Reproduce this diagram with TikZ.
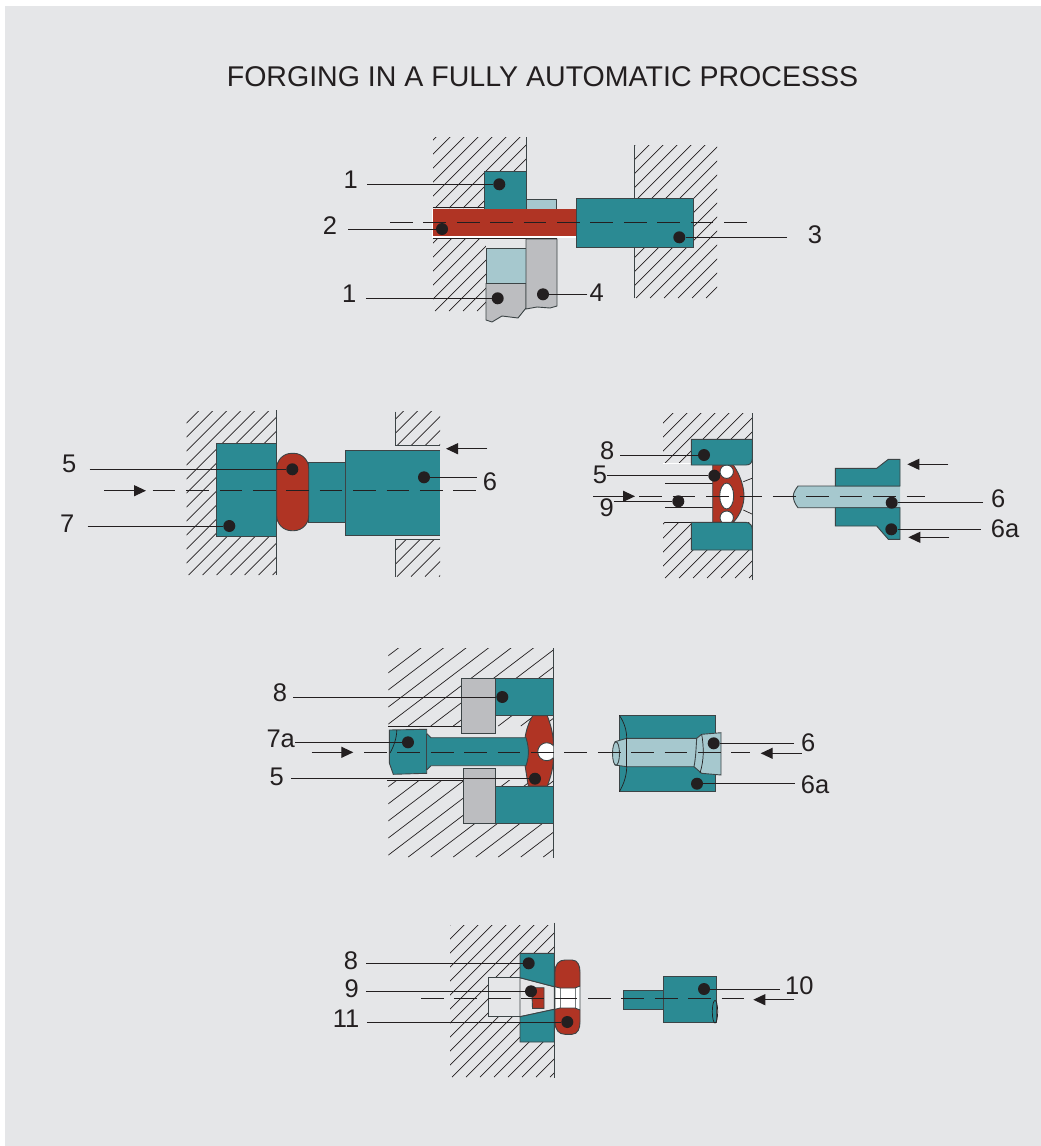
\documentclass[tikz,border=0pt]{standalone}
\usepackage{fontspec}
\setmainfont{Liberation Sans}
\usepackage{xcolor}
\usetikzlibrary{arrows.meta, calc, positioning}

\definecolor{panelc}{HTML}{E5E6E8}
\definecolor{tealc}{HTML}{2B8A93}
\definecolor{redc}{HTML}{B03424}
\definecolor{icec}{HTML}{A6C8CE}
\definecolor{steelc}{HTML}{BCBDC0}
\definecolor{inkc}{HTML}{231F20}
\definecolor{edgec}{HTML}{3C4446}

\tikzset{
  part/.style={draw=edgec, line width=0.9pt},
  tealpart/.style={part, fill=tealc},
  redpart/.style={part, fill=redc},
  icepart/.style={part, fill=icec},
  steelpart/.style={part, fill=steelc},
  voidpart/.style={part, fill=panelc},
  holepart/.style={part, fill=white},
  wall/.style={draw=edgec, line width=0.9pt},
  thinline/.style={draw=inkc, line width=0.7pt},
  faintline/.style={draw=edgec!70, line width=0.5pt},
  hatchline/.style={draw=inkc, line width=0.7pt},
  centreline/.style={draw=inkc, line width=1.2pt, dash pattern=on 22.7pt off 10.7pt},
  feed/.style={draw=inkc, line width=1.2pt, -{Triangle[length=12pt,width=11pt]}},
  blackdot/.style={circle, fill=inkc, inner sep=0pt, minimum size=12pt},
  numlabel/.style={inner sep=0pt, text=inkc, font=\fontsize{25.5}{26}\selectfont},
  leader/.style={draw=inkc, line width=0.85pt}
}

\newcommand{\hatchbox}[6]{
  \begin{scope}
    \clip (#1,#2) rectangle (#3,#4);
    \foreach \s in {0,#5,...,520} {
      \draw[hatchline] ({#1-250+\s},#4) -- ++(250,{-250*#6});
    }
  \end{scope}
}

\begin{document}
\begin{tikzpicture}[x=1pt, y=-1pt]
\useasboundingbox (0,0) rectangle (1041,1146);
\fill[white] (0,0) rectangle (1041,1146);
\fill[panelc] (5,6) rectangle (1041,1146);

\node (title) at (542.5,76.5) [text=inkc, inner sep=0pt, font=\fontsize{28.55}{30}\selectfont] {FORGING IN A FULLY AUTOMATIC PROCESSS};

\hatchbox{433}{137}{526}{208}{14}{1}
\hatchbox{433}{239}{526}{311}{14}{1}
\hatchbox{634}{145}{717}{298}{14}{1}
\draw[wall] (526,137) -- (526,209);
\draw[wall] (634,145) -- (634,298);
\draw[thinline] (433,207.5) -- (485,207.5);
\fill[white] (431.5,209) rectangle (577,237.5);
\draw[icepart] (526,199) rectangle (556,209);
\draw[tealpart] (484.5,171) rectangle (526,209);
\fill[panelc] (486,239) rectangle (526,248);
\draw[thinline] (433,238.7) -- (557,238.7);
\draw[icepart] (486,248) rectangle (526,283.5);
\draw[steelpart] (486,283.5) -- (526,283.5) -- (526,308) -- (518,318) -- (502,316) -- (492,322) -- (486,320) -- cycle;
\draw[steelpart] (526,239) -- (557,239) -- (557,306) -- (550,308) -- (537,307) -- (526,309) -- cycle;
\fill[redc] (433,209) rectangle (577,236);
\draw[tealpart] (576,198) rectangle (693,247);

\hatchbox{186.7}{411.7}{276.7}{575}{14}{1}
\hatchbox{395}{411.7}{440}{445.7}{14}{1}
\hatchbox{395}{539.3}{440}{576.7}{14}{1}
\draw[wall] (276.7,410) -- (276.7,575);
\draw[wall] (395,411.7) -- (395,445.7) -- (440,445.7);
\draw[wall] (395,576.7) -- (395,539.3) -- (440,539.3);
\draw[tealpart] (216,443.3) rectangle (276.7,536.7);
\draw[tealpart] (308.7,462.3) rectangle (345,522);
\draw[redpart, rounded corners=15pt] (276.7,453.3) rectangle (308.7,530.7);
\fill[tealc] (345,450.3) rectangle (440,535.3);
\draw[part] (440,450.3) -- (345,450.3) -- (345,535.3) -- (440,535.3);

\hatchbox{663}{413}{752.3}{463}{14}{1}
\hatchbox{663}{522}{752.3}{578}{14}{1}
\draw[wall] (752.3,413) -- (752.3,580);
\draw[white, line width=1.2pt] (663,463.3) -- (691.3,463.3);
\draw[thinline] (665,483.3) -- (712.7,483.3);
\draw[thinline] (665,507.3) -- (712.7,507.3);
\draw[thinline] (665,522.3) -- (691.3,522.3);
\draw[thinline] (743.3,481.7) -- (752,478.3);
\draw[thinline] (743.3,510) -- (752,514);
\draw[redpart] (712.7,465) -- (733.3,465) .. controls (741,476) and (744,488) .. (744,496) .. controls (744,504) and (741,514) .. (733.3,522.3) -- (712.7,522.3) -- cycle;
\draw[holepart] (726.7,471.7) circle (6.7);
\draw[holepart] (726.7,517.7) circle (6.7);
\draw[holepart] (726.7,496) ellipse (7 and 13);
\draw[tealpart] (691.3,439.3) -- (752.3,439.3) -- (752.3,458) .. controls (752.3,463) and (750,465) .. (746,465) -- (691.3,465) -- cycle;
\draw[tealpart] (691.3,522.3) -- (746,522.3) .. controls (750,523) and (752.3,525) .. (752.3,530) -- (752.3,550) -- (691.3,550) -- cycle;
\fill[icec] (900,486) -- (798,486) .. controls (795,490) and (793.3,493) .. (793.3,496.3) .. controls (793.3,500) and (795,504) .. (798,507.7) -- (900,507.7) -- cycle;
\draw[part] (900,486) -- (798,486) .. controls (795,490) and (793.3,493) .. (793.3,496.3) .. controls (793.3,500) and (795,504) .. (798,507.7) -- (900,507.7);
\draw[tealpart] (835.3,468.3) -- (876.7,468.3) -- (888.3,459.3) -- (900,459.3) -- (900,486) -- (835.3,486) -- cycle;
\draw[tealpart] (835.3,507.7) -- (900,507.7) -- (900,539.3) -- (888.3,539.3) -- (876.7,526) -- (835.3,526) -- cycle;

\hatchbox{388.3}{648}{553.3}{726}{22.5}{0.76}
\hatchbox{388.3}{780}{553.3}{857}{22.5}{0.76}
\draw[wall] (553.3,648) -- (553.3,858);
\draw[thinline] (388,726) -- (462,726);
\draw[thinline] (387,780) -- (464,780);
\draw[redpart] (532.7,715.7) -- (547.3,715.7) .. controls (551,726) and (553.3,734) .. (553.3,744) -- (553.3,758) .. controls (553.3,768) and (551,776) .. (547.3,786) -- (528.3,786) .. controls (527,778) and (526,772) .. (525,765) -- (528.3,751.7) -- (525,738.3) .. controls (526,730) and (529,722) .. (532.7,715.7) -- cycle;
\begin{scope}
\clip (530,735) rectangle (553.3,770);
\draw[holepart] (546.7,751.7) circle (9);
\end{scope}
\draw[steelpart] (461.7,678.3) rectangle (495,733.3);
\draw[steelpart] (463.3,768.3) rectangle (495,823.3);
\draw[tealpart] (495,678.3) rectangle (553.3,715.7);
\draw[tealpart] (495,786) rectangle (553.3,823.3);
\draw[tealpart] (389.3,730) -- (426.7,729.3) -- (426.7,733.5) -- (431,737.7) -- (526,737.7) .. controls (528,744) and (528.5,750) .. (528.3,751.7) .. controls (528.5,755) and (528,760) .. (526,765.7) -- (431,765.7) -- (426.7,770) -- (426.7,773.3) -- (393.3,774.3) -- (389.3,763) -- cycle;
\draw[part] (426.7,733.5) -- (426.7,770);
\draw[thinline] (396.7,730) .. controls (397,738) and (393,748) .. (390,753);

\draw[tealpart] (619.3,715.3) rectangle (715,791.7);
\draw[thinline] (619.3,715.3) .. controls (624,722) and (626.7,730) .. (626.7,738.3);
\draw[thinline] (619.3,791.7) .. controls (624,784) and (626.7,775) .. (626.7,766.7);
\draw[icepart] (626.7,738.3) -- (615,741.7) -- (615,765) -- (626.7,766.7) -- (696.7,766.7) -- (696.7,738.3) -- cycle;
\draw[thinline] (626.7,738.3) -- (626.7,766.7);
\draw[icepart] (616,753.5) ellipse (3.5 and 11.7);
\draw[icepart] (701.7,734.3) -- (721,732.7) -- (721,775) -- (701.7,773.3) -- (694,766.7) .. controls (696,756) and (696,748) .. (696.7,738.3) -- cycle;
\draw[thinline] (701.7,734.3) .. controls (704,748) and (704,760) .. (700,773);

\hatchbox{450}{925}{554.3}{1077}{14}{1}
\draw[wall] (554.7,922.7) -- (554.7,1078);
\draw[voidpart] (488.3,977.7) rectangle (520,1016.7);
\draw[voidpart] (520,977.7) -- (554.3,986.7) -- (554.3,1009.3) -- (520,1016.7) -- cycle;
\draw[redpart] (531.7,987.7) -- (544,987.7) -- (544,1008.3) -- (532.5,1008.3) -- cycle;
\draw[tealpart] (520,953.3) -- (554.3,953.3) -- (554.3,986.7) -- (520,977.7) -- cycle;
\draw[tealpart] (520,1016.7) -- (554.3,1009.3) -- (554.3,1042) -- (520,1042) -- cycle;
\draw[holepart, rounded corners=2pt] (555,985) rectangle (580,1011);
\draw[faintline] (560,988) -- (560,1008);
\draw[faintline] (575,988) -- (575,1008);
\draw[redpart] (555,986.7) -- (555,972) .. controls (555,964) and (559,960) .. (565,960) -- (572,960) .. controls (578,960) and (580,966) .. (580,972) -- (580,986) -- (575,988) -- (560,988) -- cycle;
\draw[redpart] (555,1009.3) -- (555,1022) .. controls (555,1030) and (559,1034.3) .. (565,1034.3) -- (572,1034.3) .. controls (578,1034.3) and (580,1028) .. (580,1022) -- (580,1010) -- (575,1008) -- (560,1008) -- cycle;

\draw[tealpart] (623.3,990.7) rectangle (663.3,1009.3);
\draw[tealpart] (663.3,976) rectangle (716.7,1022);
\draw[thinline] (715,1011.7) ellipse (2.7 and 11.3);

\coordinate (axisAa) at (390,222.3);
\coordinate (axisAb) at (748,222.3);
\coordinate (axisBa) at (152.7,490.7);
\coordinate (axisBb) at (476,490.7);
\coordinate (axisCa) at (639.3,496.3);
\coordinate (axisCb) at (925,496.3);
\coordinate (axisDa) at (364,752.3);
\coordinate (axisDb) at (750,752.3);
\coordinate (axisEa) at (421,998.3);
\coordinate (axisEb) at (745,998.3);
\draw[centreline] (axisAa) -- (axisAb);
\draw[centreline] (axisBa) -- (axisBb);
\draw[centreline] (axisCa) -- (axisCb);
\draw[centreline] (axisDa) -- (axisDb);
\draw[centreline] (axisEa) -- (axisEb);

\coordinate (feedBa) at (104.3,490.7);
\coordinate (feedBb) at (146,490.7);
\coordinate (feedBc) at (487.3,448.7);
\coordinate (feedBd) at (446,448.7);
\coordinate (feedCa) at (593.3,496.3);
\coordinate (feedCb) at (635,496.3);
\coordinate (feedCc) at (948.3,464.3);
\coordinate (feedCd) at (907.3,464.3);
\coordinate (feedCe) at (949.3,537.3);
\coordinate (feedCf) at (908.3,537.3);
\coordinate (feedDa) at (311.7,752.3);
\coordinate (feedDb) at (353.3,752.3);
\coordinate (feedDc) at (801.7,753.3);
\coordinate (feedDd) at (760.7,753.3);
\coordinate (feedEa) at (794,999.7);
\coordinate (feedEb) at (753.3,999.7);
\draw[feed] (feedBa) -- (feedBb);
\draw[feed] (feedBc) -- (feedBd);
\draw[feed] (feedCa) -- (feedCb);
\draw[feed] (feedCc) -- (feedCd);
\draw[feed] (feedCe) -- (feedCf);
\draw[feed] (feedDa) -- (feedDb);
\draw[feed] (feedDc) -- (feedDd);
\draw[feed] (feedEa) -- (feedEb);

\node (dotAa) at (499.3,184.3) [blackdot] {};
\node (dotAb) at (442,229) [blackdot] {};
\node (dotAc) at (679.3,237.3) [blackdot] {};
\node (dotAd) at (497.7,298.3) [blackdot] {};
\node (dotAe) at (543,294.3) [blackdot] {};
\node (labAa) at (350.7,180) [numlabel] {1};
\node (labAb) at (330,226) [numlabel] {2};
\node (labAc) at (815,235) [numlabel] {3};
\node (labAd) at (349.3,294) [numlabel] {1};
\node (labAe) at (596.7,292.3) [numlabel] {4};
\draw[leader] ([xshift=9.5pt]labAa.east |- dotAa) -- (dotAa);
\draw[leader] ([xshift=11pt]labAb.east |- dotAb) -- (dotAb);
\draw[leader] ([xshift=-20.6pt]labAc.west |- dotAc) -- (dotAc);
\draw[leader] ([xshift=9.3pt]labAd.east |- dotAd) -- (dotAd);
\draw[leader] ([xshift=-2pt]labAe.west |- dotAe) -- (dotAe);

\node (dotBa) at (292.3,469.3) [blackdot] {};
\node (dotBb) at (424,477.3) [blackdot] {};
\node (dotBc) at (229.3,526) [blackdot] {};
\node (labBa) at (69.3,464) [numlabel] {5};
\node (labBb) at (490,481.7) [numlabel] {6};
\node (labBc) at (67.3,524) [numlabel] {7};
\draw[leader] ([xshift=13pt]labBa.east |- dotBa) -- (dotBa);
\draw[leader] ([xshift=-6pt]labBb.west |- dotBb) -- (dotBb);
\draw[leader] ([xshift=13pt]labBc.east |- dotBc) -- (dotBc);

\node (dotCa) at (704,455) [blackdot] {};
\node (dotCb) at (714.3,475.7) [blackdot] {};
\node (dotCc) at (678.3,501.3) [blackdot] {};
\node (dotCd) at (891.7,502.7) [blackdot] {};
\node (dotCe) at (891.3,529.3) [blackdot] {};
\node (labCa) at (607.3,451) [numlabel] {8};
\node (labCb) at (600,474.7) [numlabel] {5};
\node (labCc) at (606.7,507.3) [numlabel] {9};
\node (labCd) at (998.3,499) [numlabel] {6};
\node (labCe) at (1005,528.3) [numlabel] {6a};
\draw[leader] ([xshift=5.6pt]labCa.east |- dotCa) -- (dotCa);
\draw[leader] (labCb.east |- dotCb) -- (dotCb);
\draw[leader] (labCc.east |- dotCc) -- (dotCc);
\draw[leader] ([xshift=-8pt]labCd.west |- dotCd) -- (dotCd);
\draw[leader] ([xshift=-10pt]labCe.west |- dotCe) -- (dotCe);

\node (dotDa) at (502.3,697) [blackdot] {};
\node (dotDb) at (408,742.3) [blackdot] {};
\node (dotDc) at (535,778.7) [blackdot] {};
\node (dotDd) at (713.7,743.3) [blackdot] {};
\node (dotDe) at (697,783.7) [blackdot] {};
\node (labDa) at (280,692.3) [numlabel] {8};
\node (labDb) at (280.7,739) [numlabel] {7a};
\node (labDc) at (276.7,777.3) [numlabel] {5};
\node (labDd) at (808.3,742.7) [numlabel] {6};
\node (labDe) at (815,784.3) [numlabel] {6a};
\draw[leader] ([xshift=6pt]labDa.east |- dotDa) -- (dotDa);
\draw[leader] (labDb.east |- dotDb) -- (dotDb);
\draw[leader] ([xshift=7.5pt]labDc.east |- dotDc) -- (dotDc);
\draw[leader] ([xshift=-7pt]labDd.west |- dotDd) -- (dotDd);
\draw[leader] ([xshift=-6pt]labDe.west |- dotDe) -- (dotDe);

\node (dotEa) at (528.7,963.3) [blackdot] {};
\node (dotEb) at (531,991.3) [blackdot] {};
\node (dotEc) at (567.3,1022) [blackdot] {};
\node (dotEd) at (704,989) [blackdot] {};
\node (labEa) at (351,961) [numlabel] {8};
\node (labEb) at (351.7,988.3) [numlabel] {9};
\node (labEc) at (346,1018.3) [numlabel] {11};
\node (labEd) at (799.3,986) [numlabel] {10};
\draw[leader] ([xshift=8pt]labEa.east |- dotEa) -- (dotEa);
\draw[leader] ([xshift=7pt]labEb.east |- dotEb) -- (dotEb);
\draw[leader] ([xshift=7.5pt]labEc.east |- dotEc) -- (dotEc);
\draw[leader] ([xshift=-5pt]labEd.west |- dotEd) -- (dotEd);
\end{tikzpicture}
\end{document}
